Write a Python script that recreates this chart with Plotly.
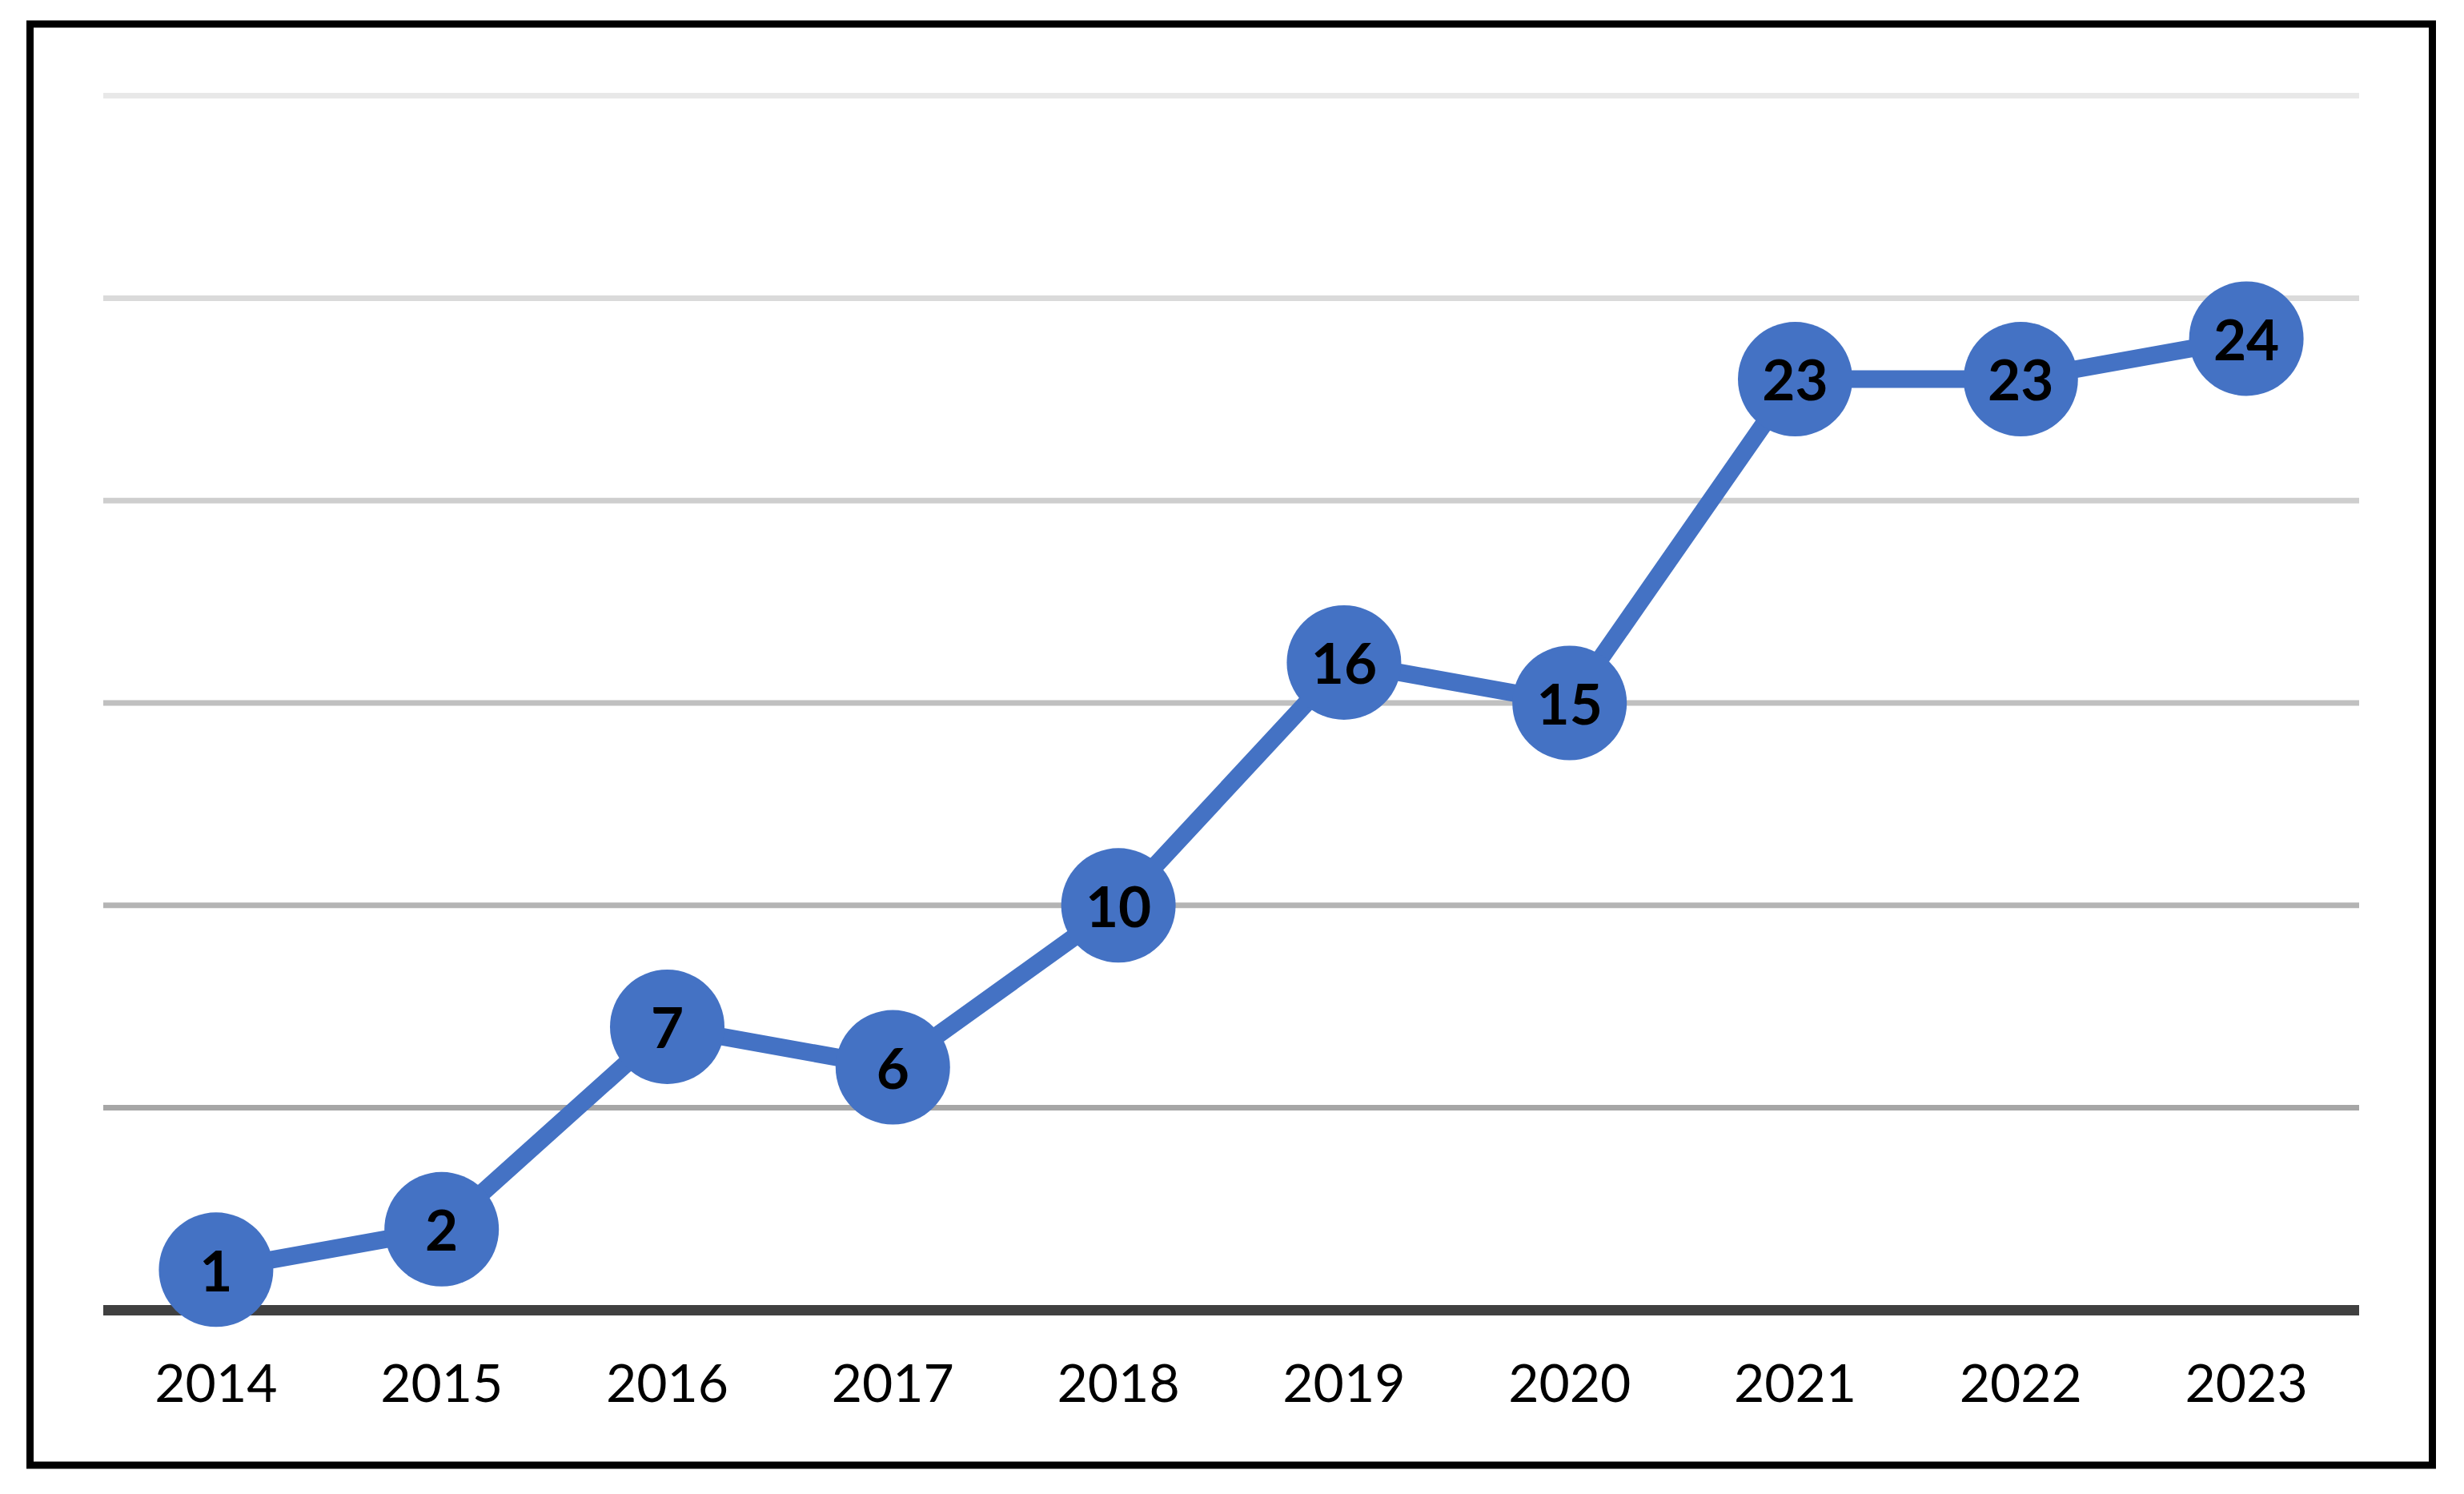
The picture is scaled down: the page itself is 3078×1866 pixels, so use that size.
import plotly.graph_objects as go

years = ["2014", "2015", "2016", "2017", "2018", "2019", "2020", "2021", "2022", "2023"]
values = [1, 2, 7, 6, 10, 16, 15, 23, 23, 24]
grid_values = [5, 10, 15, 20, 25, 30]
grid_colors = ["#a6a6a6", "#b4b4b4", "#c0c0c0", "#cecece", "#dadada", "#e8e8e8"]

OFF = 8  # page body margin
PAD = 0.15  # y-range padding so edge lines are not clipped
W, H = 3078 - 2 * OFF, 1866 - 2 * OFF
unit = 1516 / 30.0
padpx = PAD * unit
L, R = 129 - OFF, 123
T, B = 120 - OFF - padpx, 222 - padpx
pw, ph = W - L - R, H - T - B
label_drop = 9 / unit  # labels sit slightly lower than the marker centre

BLUE = "#4472C4"

fig = go.Figure()
fig.add_trace(go.Scatter(
    x=years, y=values,
    mode="lines+markers",
    line=dict(color=BLUE, width=22),
    marker=dict(color=BLUE, size=143, line=dict(width=0)),
    cliponaxis=False,
    hoverinfo="skip",
))
fig.add_trace(go.Scatter(
    x=years, y=values, yaxis="y2",
    mode="text",
    text=[str(v) for v in values],
    textposition="middle center",
    textfont=dict(family="Lato", size=71, color="black", weight="bold"),
    cliponaxis=False,
    hoverinfo="skip",
))

shapes = []
for gv, gc in zip(grid_values, grid_colors):
    shapes.append(dict(type="line", xref="paper", yref="y", x0=0, x1=1, y0=gv, y1=gv,
                       line=dict(color=gc, width=7), layer="below"))
# axis baseline
shapes.append(dict(type="line", xref="paper", yref="y", x0=0, x1=1, y0=0, y1=0,
                   line=dict(color="#404040", width=13), layer="below"))
# outer frame (figure pixel coords)
fx0, fx1 = 37.5 - OFF, 3038.5 - OFF
fy0, fy1 = 30.5 - OFF, 1829.5 - OFF
shapes.append(dict(type="rect", xref="paper", yref="paper",
                   x0=(fx0 - L) / pw, x1=(fx1 - L) / pw,
                   y0=(H - B - fy1) / ph, y1=(H - B - fy0) / ph,
                   line=dict(color="black", width=9), fillcolor="rgba(0,0,0,0)"))

fig.update_layout(
    width=W, height=H,
    margin=dict(l=L, r=R, t=T, b=B, pad=0),
    paper_bgcolor="white", plot_bgcolor="white",
    showlegend=False,
    shapes=shapes,
    xaxis=dict(type="category", showgrid=False, zeroline=False, showline=False,
               ticks="outside", ticklen=34 - padpx, tickcolor="rgba(0,0,0,0)",
               tickfont=dict(family="Lato", size=66, color="black"),
               range=[-0.5, 9.5], fixedrange=True),
    yaxis=dict(range=[-PAD, 30 + PAD], showgrid=False, zeroline=False, showline=False,
               showticklabels=False, ticks="", fixedrange=True),
    yaxis2=dict(range=[-PAD + label_drop, 30 + PAD + label_drop], overlaying="y",
                showgrid=False, zeroline=False, showline=False,
                showticklabels=False, ticks="", fixedrange=True),
)

fig.write_html("out.html")
